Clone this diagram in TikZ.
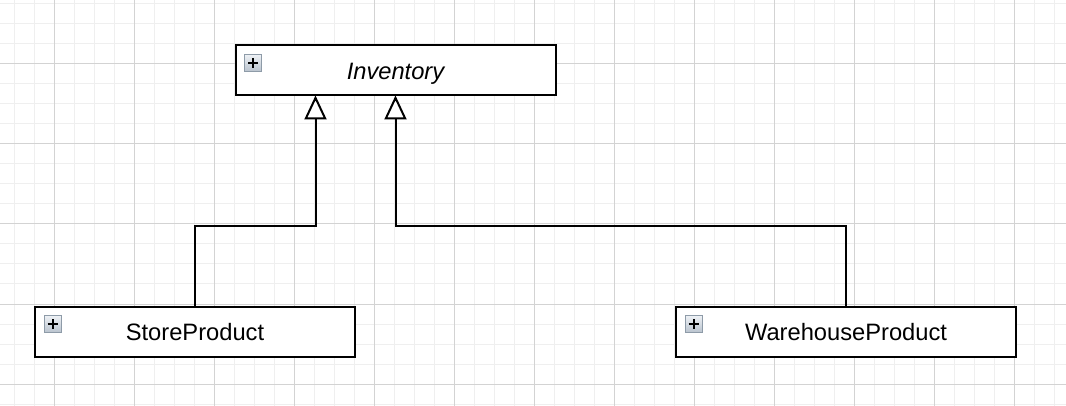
\documentclass[tikz,border=0pt]{standalone}
\usepackage{fontspec}
\setmainfont{Liberation Sans}
\usetikzlibrary{arrows.meta,calc}
\definecolor{minorgrid}{HTML}{EFEFEF}
\definecolor{majorgrid}{HTML}{D3D3D3}
\definecolor{icontop}{HTML}{EEF1F5}
\definecolor{iconbot}{HTML}{B9C3CE}
\definecolor{iconline}{HTML}{8E9BA8}
\tikzset{
  classbox/.style={draw=black, line width=2pt, fill=white, rectangle, outer sep=0pt,
    minimum height=50pt, inner sep=0pt, text depth=0pt, font=\fontsize{23.7}{28}\selectfont},
  expandicon/.style={rectangle, minimum size=17pt, inner sep=0pt, outer sep=0pt,
    top color=icontop, bottom color=iconbot, draw=iconline, line width=1pt,
    anchor=north west,
    path picture={
      \draw[black, line width=2pt] ($(path picture bounding box.center)+(-5,0)$) -- ($(path picture bounding box.center)+(5,0)$);
      \draw[black, line width=2pt] ($(path picture bounding box.center)+(0,-5)$) -- ($(path picture bounding box.center)+(0,5)$);
    }},
  inherit/.style={draw=black, line width=2pt,
    -{Triangle[open, fill=white, length=24pt, width=22pt]}},
  minorline/.style={draw=minorgrid, line width=1pt},
  majorline/.style={draw=majorgrid, line width=1pt}
}
\begin{document}
\begin{tikzpicture}[x=1pt,y=-1pt]
\useasboundingbox (0,0) rectangle (1066,406);
\fill[white] (0,0) rectangle (1066,406);
% grid
\foreach \x in {14,34,...,1054} \draw[minorline] (\x,0) -- (\x,406);
\foreach \y in {4,24,...,404} \draw[minorline] (0,\y) -- (1066,\y);
\foreach \x in {54,134,...,1014} \draw[majorline] (\x,0) -- (\x,406);
\foreach \y in {64,144,...,384} \draw[majorline] (0,\y) -- (1066,\y);
\draw[majorline, line width=1.5pt] (534.5,0) -- (534.5,406);
% classes
\node[classbox, minimum width=320pt] (inv) at (395.5,70.5) {\raisebox{-1.5pt}{\itshape Inventory}};
\node[classbox, minimum width=320pt] (sp) at (195,331.5) {\raisebox{-1.5pt}{StoreProduct}};
\node[classbox, minimum width=340pt] (wp) at (846,331.5) {\raisebox{-1.5pt}{WarehouseProduct}};
% expand icons
\node[expandicon] (invicon) at ($(inv.north west)+(9,9)$) {};
\node[expandicon] (spicon) at ($(sp.north west)+(9,9)$) {};
\node[expandicon] (wpicon) at ($(wp.north west)+(9,9)$) {};
% generalizations
\coordinate (bend) at (0,226);
\draw[inherit] (sp.north) -- (sp.north |- bend) -| ($(inv.south)+(-80,0)$);
\draw[inherit] (wp.north) -- (wp.north |- bend) -| (inv.south);
\end{tikzpicture}
\end{document}
